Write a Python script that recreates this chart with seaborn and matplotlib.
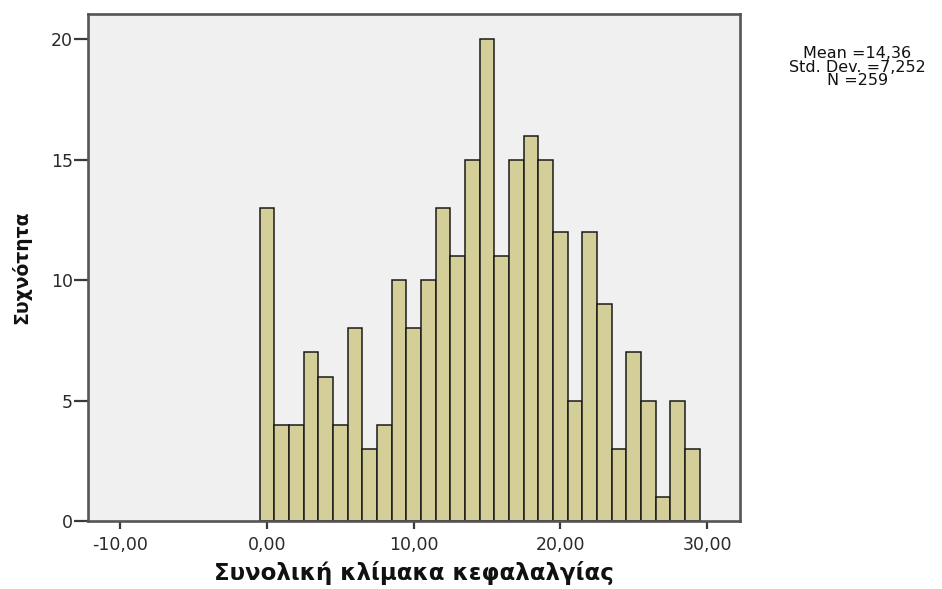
import numpy as np
import pandas as pd
import matplotlib
matplotlib.use("Agg")
import matplotlib.pyplot as plt
import seaborn as sns

# Score values (integer bins 0..29) and their frequencies
scores = list(range(0, 30))
counts = [13, 4, 4, 7, 6, 4, 8, 3, 4, 10,
          8, 10, 13, 11, 15, 20, 11, 15, 16, 15,
          12, 5, 12, 9, 3, 7, 5, 1, 5, 3]
x_ticks = [-10, 0, 10, 20, 30]
x_tick_labels = ["-10,00", "0,00", "10,00", "20,00", "30,00"]
y_ticks = [0, 5, 10, 15, 20]
stats_lines = ["Mean =14,36", "Std. Dev. =7,252", "N =259"]

sns.set_theme(style="white")
plt.rcParams["font.family"] = ["DejaVu Sans"]

df = pd.DataFrame({"score": scores, "count": counts})

fig = plt.figure(figsize=(9.42, 5.89), dpi=100)
ax = fig.add_axes([0.0934, 0.1154, 0.6922, 0.8606])
ax.set_facecolor("#f0f0f0")

sns.histplot(data=df, x="score", weights="count",
             binwidth=1.0, binrange=(-0.5, 29.5),
             color="#d4cf98", alpha=1.0,
             edgecolor="#1a1a1a", linewidth=1.1, ax=ax)

ax.set_xlim(-12.2, 32.25)
ax.set_ylim(0, 21.05)
ax.set_xticks(x_ticks)
ax.set_xticklabels(x_tick_labels)
ax.set_yticks(y_ticks)
ax.set_yticklabels([str(v) for v in y_ticks])

for s in ax.spines.values():
    s.set_visible(True)
    s.set_color("#555555")
    s.set_linewidth(1.9)

ax.tick_params(axis="both", bottom=True, left=True, direction="out",
               width=1.6, color="#3a3a3a", labelcolor="#2a2a2a")
ax.tick_params(axis="x", length=6, pad=5, labelsize=12.5)
ax.tick_params(axis="y", length=10, pad=1, labelsize=12.5)

ax.set_xlabel("Συνολική κλίμακα κεφαλαλγίας", fontsize=16.5,
              fontweight="bold", color="#111111", labelpad=5)
ax.set_ylabel("Συχνότητα", fontsize=13.5, fontweight="bold",
              color="#111111", labelpad=14)

fig.text(0.910, 0.886, "\n".join(stats_lines), ha="center", va="center",
         fontsize=11.5, color="#111111", linespacing=0.88)

fig.savefig("out.png", dpi=100, facecolor="white")
